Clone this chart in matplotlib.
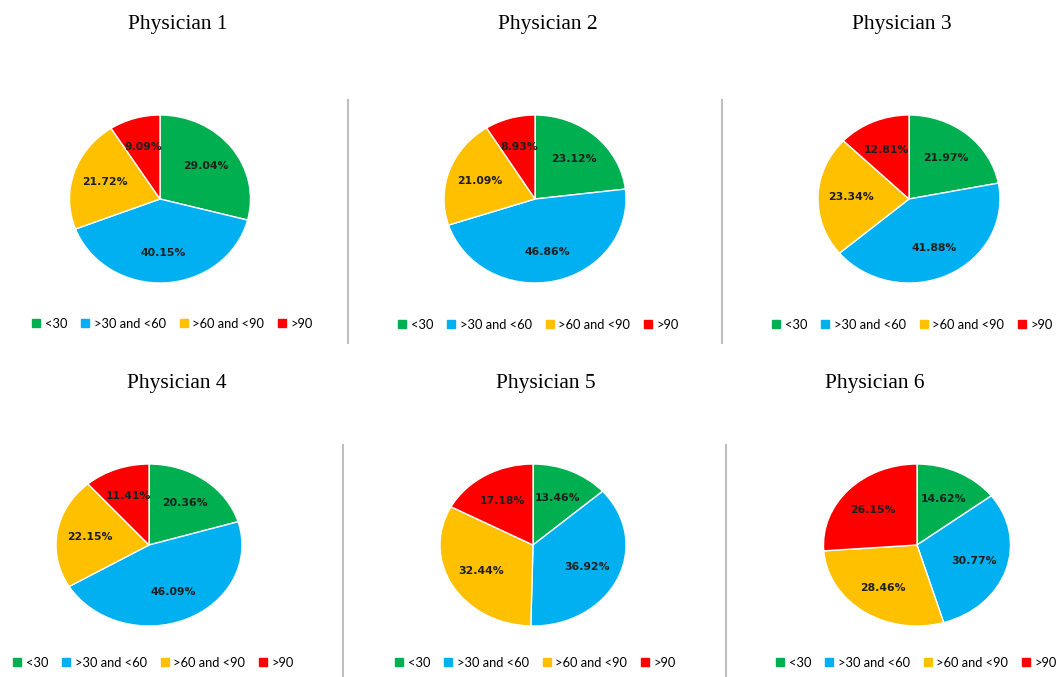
import matplotlib.pyplot as plt
from matplotlib.lines import Line2D

categories = ["<30", ">30 and <60", ">60 and <90", ">90"]
titles = ["Physician 1", "Physician 2", "Physician 3",
          "Physician 4", "Physician 5", "Physician 6"]
physician_1 = [29.04, 40.15, 21.72, 9.09]
physician_2 = [23.12, 46.86, 21.09, 8.93]
physician_3 = [21.97, 41.88, 23.34, 12.81]
physician_4 = [20.36, 46.09, 22.15, 11.41]
physician_5 = [13.46, 36.92, 32.44, 17.18]
physician_6 = [14.62, 30.77, 28.46, 26.15]
all_values = [physician_1, physician_2, physician_3,
              physician_4, physician_5, physician_6]

colors = ["#00B050", "#00B0F0", "#FFC000", "#FF0000"]

W, H = 1063, 677
# layout in pixels: pie centre, pie size, title centre, legend centre
pie_centres = [(160, 199), (535, 199), (909, 199),
               (149, 545), (533, 545), (917, 545)]
pie_sizes = [(181, 168), (182, 168), (182, 168),
             (186, 162), (186, 162), (187, 162)]
title_pos = [(178, 25), (548, 25), (902, 25),
             (177, 383), (546, 383), (875, 383)]
legend_pos = [(172, 324), (538, 325), (912, 325),
              (153, 663), (535, 663), (916, 663)]
separators = [(348, 100, 343), (722, 100, 343),
              (343, 445, 677), (726, 445, 677)]


def fx(x):
    return x / W


def fy(y):
    return 1 - y / H


fig = plt.figure(figsize=(W / 100, H / 100), dpi=100)

handles = [Line2D([], [], marker="s", linestyle="none", color=c,
                  markersize=5.5) for c in colors]

for i, vals in enumerate(all_values):
    cx, cy = pie_centres[i]
    pw, ph = pie_sizes[i]
    ax = fig.add_axes([fx(cx - pw / 2), fy(cy + ph / 2), pw / W, ph / H])
    wedges, texts, autotexts = ax.pie(
        vals, colors=colors, startangle=90, counterclock=False,
        autopct="%.2f%%", pctdistance=0.64,
        wedgeprops=dict(edgecolor="white", linewidth=1),
        textprops=dict(fontsize=7.8, fontweight="bold", color="#1e1e1e",
                       family="DejaVu Sans"))
    ax.set_aspect("auto")
    ax.set_xlim(-1, 1)
    ax.set_ylim(-1, 1)
    ax.axis("off")

    tx, ty = title_pos[i]
    fig.text(fx(tx), fy(ty), titles[i], ha="center", va="center",
             fontsize=15.5, family="Liberation Serif")

    lx, ly = legend_pos[i]
    fig.legend(handles, categories, loc="center",
               bbox_to_anchor=(fx(lx), fy(ly)), ncol=4, frameon=False,
               prop=dict(family="Lato", size=9.3), handlelength=0.8,
               handletextpad=0.25, columnspacing=1.0,
               borderpad=0, borderaxespad=0)

for x, y0, y1 in separators:
    fig.add_artist(Line2D([fx(x), fx(x)], [fy(y0), fy(y1)],
                          color="#bfbfbf", linewidth=1.5))

fig.savefig("out.png", dpi=100)
